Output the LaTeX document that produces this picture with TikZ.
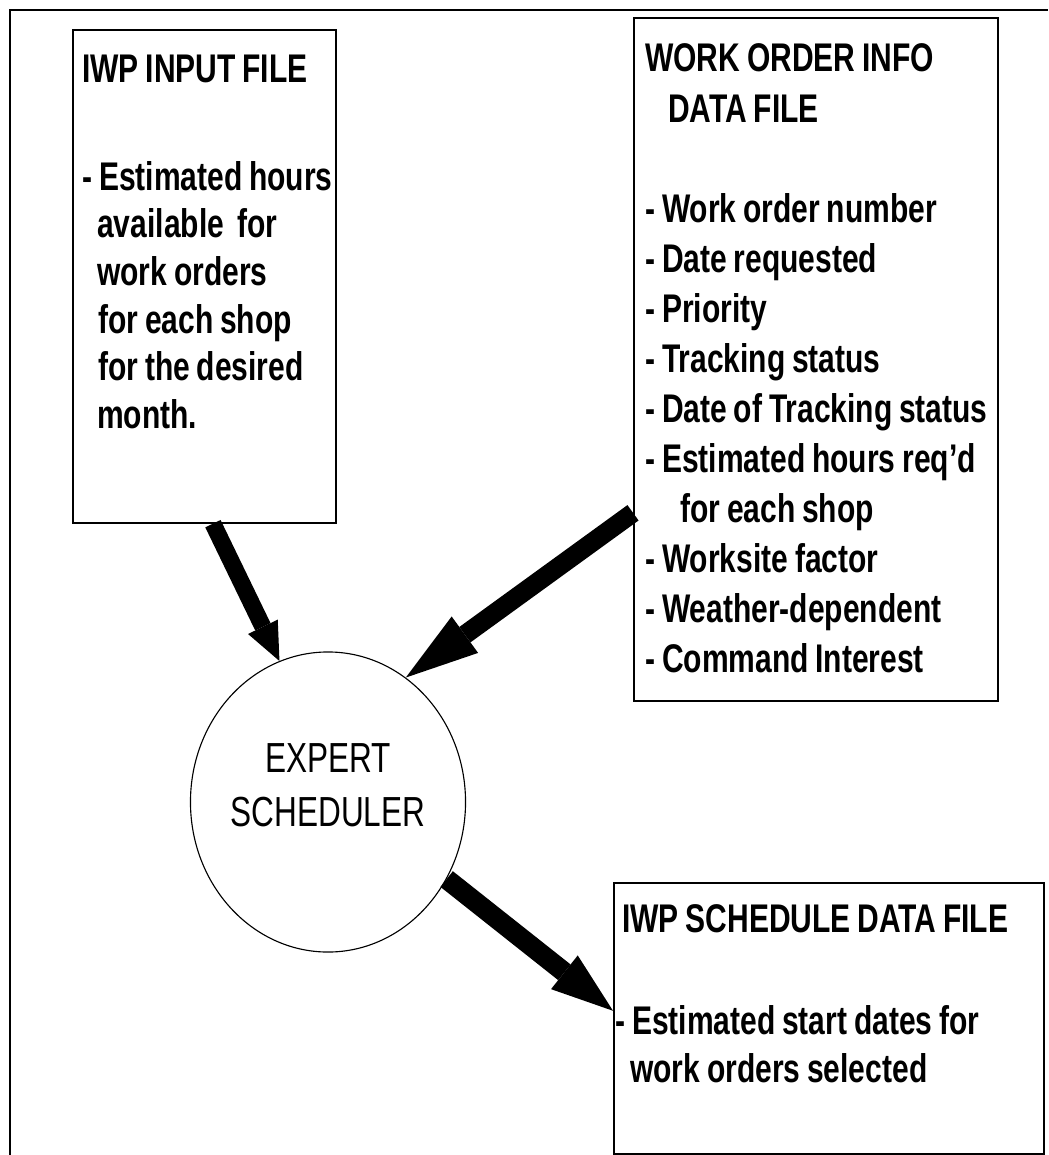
\documentclass[tikz,border=0pt]{standalone}
\usepackage{fontspec}
\setmainfont{Liberation Sans}[FakeStretch=0.75]
\usetikzlibrary{arrows.meta,shapes.geometric}

\newcommand{\itemind}[1]{\hspace*{#1}}
\newcommand{\tightwords}{\spaceskip=0.17em\relax}

\tikzset{
    filebox/.style={draw, line width=1.1pt, anchor=north west, inner sep=0pt},
    filetext/.style={anchor=base west, align=left, text width=10cm, inner sep=0pt},
    procnode/.style={draw, ellipse, line width=0.8pt, inner sep=0pt, align=center,
        minimum width=4.9cm, minimum height=7.5cm,
        font=\fontsize{29.9pt}{38.4pt}\selectfont},
    datatip/.style={-{Triangle[#1, line width=0pt]}}
}

\begin{document}
\begin{tikzpicture}[x=0.025cm, y=-0.025cm]
    \useasboundingbox (0,0) rectangle (1048,1155);
    \draw[line width=1pt] (10,1155) -- (10,10) -- (1048,10);

    \node[filebox, minimum width=6.575cm, minimum height=12.325cm] (inbox) at (72,29) {};
    \node[filebox, minimum width=9.1cm, minimum height=17.075cm] (wobox) at (633,17) {};
    \node[filebox, minimum width=10.75cm, minimum height=6.775cm] (outbox) at (613,882) {};
    \node[procnode] (sched) at (328,802) {EXPERT\\SCHEDULER\\[-14pt]\mbox{}};

    \node[filetext, font=\fontsize{28.45pt}{33.9pt}\selectfont\bfseries] (intext)
        at ([shift={(10,54)}]inbox.north west) {\tightwords IWP INPUT FILE\\[1.485cm]
        - Estimated hours\\
        \itemind{0.375cm}available\ \ for\\
        \itemind{0.375cm}work orders\\
        \itemind{0.4cm}for each shop\\
        \itemind{0.4cm}for the desired\\
        \itemind{0.375cm}month.};

    \node[filetext, font=\fontsize{28.45pt}{35.6pt}\selectfont\bfseries] (wotext)
        at ([shift={(12,55)}]wobox.north west) {\tightwords WORK ORDER INFO\\
        \itemind{0.575cm}DATA FILE\\[1.25cm]
        - Work order number\\
        - Date requested\\
        - Priority\\
        - Tracking status\\
        - Date of Tracking status\\
        - Estimated hours req'd\\
        \itemind{0.875cm}for each shop\\
        - Worksite factor\\
        - Weather-dependent\\
        - Command Interest};

    \node[filetext, font=\fontsize{28.45pt}{34.1pt}\selectfont\bfseries] (outtext)
        at ([shift={(9,50)}]outbox.north west) {\tightwords IWP SCHEDULE DATA FILE\\[1.375cm]
        \itemind{-0.175cm}- Estimated start dates for\\
        \itemind{0.2cm}work orders selected};

    % data flow
    \draw[line width=0.425cm, datatip={length=0.95cm, width=0.825cm}] (inbox.-88) -- (sched.109);
    \draw[line width=0.475cm, datatip={length=1.825cm, width=1.125cm}] (wobox.220) -- (sched.58);
    \draw[line width=0.5cm, datatip={length=1.55cm, width=1.075cm}] (sched.-33) -- (outbox.178.5);
\end{tikzpicture}
\end{document}
